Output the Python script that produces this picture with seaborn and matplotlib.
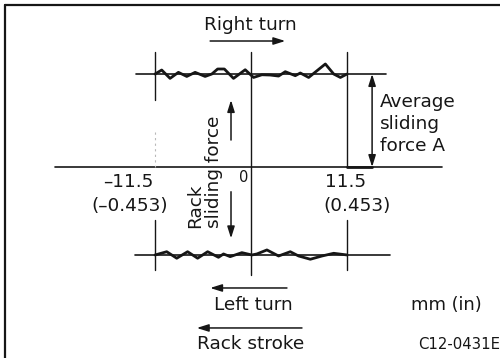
import matplotlib
matplotlib.use("Agg")
import matplotlib.pyplot as plt
import numpy as np
import pandas as pd
import seaborn as sns

# Rack stroke positions (mm) and sliding force, normalised so that the
# average sliding force A equals 1.
right_turn_stroke = [-11.5, -10.7, -9.7, -8.7, -7.7, -6.7, -5.5, -4.7, -4.0, -3.2,
                     -2.1, -0.7, 0.3, 1.3, 2.3, 3.3, 4.1, 5.3, 5.9, 6.9,
                     8.9, 9.9, 10.7, 11.5]
right_turn_force = [1.000, 1.043, 0.953, 1.018, 0.974, 1.018, 0.974, 1.000, 1.054, 1.054,
                    0.953, 1.046, 0.963, 0.992, 0.989, 0.978, 1.025, 0.982, 1.011, 0.963,
                    1.108, 1.000, 0.963, 1.000]

left_turn_stroke = [-11.5, -10.1, -8.9, -7.6, -6.4, -5.2, -3.9, -3.3, -2.5, -1.1,
                    0.1, 0.7, 1.9, 3.3, 4.7, 5.7, 7.1, 8.5, 9.9, 11.5]
left_turn_force = [-0.946, -0.911, -0.981, -0.911, -0.981, -0.911, -0.971, -0.935, -0.964, -0.921,
                   -0.946, -0.935, -0.892, -0.957, -0.911, -0.957, -0.992, -0.957, -0.928, -0.946]

average_force = [1.0, -0.946]
stroke_limit_mm = 11.5
stroke_limit_in = 0.453

sns.set_theme(style="white")
plt.rcParams["font.family"] = ["DejaVu Sans"]

INK = "#161616"

df = pd.concat([
    pd.DataFrame({"stroke": right_turn_stroke, "force": right_turn_force, "turn": "Right turn"}),
    pd.DataFrame({"stroke": left_turn_stroke, "force": left_turn_force, "turn": "Left turn"}),
])

fig = plt.figure(figsize=(5.0, 3.58), dpi=100)
ax = fig.add_axes([0, 0, 1, 1])
ax.set_xlim(-30.07, 29.82)
ax.set_ylim(-2.054, 1.796)
ax.axis("off")

# frame (left and top edges)
ax.plot([0.010, 0.010], [0.0, 0.986], color=INK, lw=1.6, transform=ax.transAxes, clip_on=False)
ax.plot([0.010, 1.0], [0.986, 0.986], color=INK, lw=1.6, transform=ax.transAxes, clip_on=False)

# reference lines
ax.plot([-23.5, 22.9], [0, 0], color=INK, lw=1.2)
ax.plot([-13.8, 16.2], [average_force[0]] * 2, color=INK, lw=1.2)
ax.plot([-13.9, 16.7], [average_force[1]] * 2, color=INK, lw=1.2)
ax.plot([0, 0], [1.237, -1.161], color=INK, lw=1.0)
ax.plot([-stroke_limit_mm] * 2, [1.237, 0.72], color=INK, lw=1.0)
ax.plot([-stroke_limit_mm] * 2, [0.38, 0.0], color="#b8b8b8", lw=0.8, ls=(0, (2, 3)))
ax.plot([-stroke_limit_mm] * 2, [-0.57, -1.108], color=INK, lw=1.0)
ax.plot([stroke_limit_mm] * 2, [1.237, 0.0], color=INK, lw=1.0)
ax.plot([stroke_limit_mm] * 2, [-0.57, -1.108], color=INK, lw=1.0)
ax.plot([stroke_limit_mm, 14.5], [0, 0], color=INK, lw=2.0)

# measured sliding force traces
sns.lineplot(data=df, x="stroke", y="force", units="turn", estimator=None,
             color=INK, lw=2.0, sort=False, ax=ax, legend=False)
ax.set_xlim(-30.07, 29.82)
ax.set_ylim(-2.054, 1.796)
ax.axis("off")


def arrow(x0, y0, x1, y1, style="-|>", lw=1.1):
    ax.annotate("", xy=(x1, y1), xytext=(x0, y0),
                arrowprops=dict(arrowstyle=style + ",head_length=0.7,head_width=0.22",
                                color=INK, lw=lw, shrinkA=0, shrinkB=0,
                                mutation_scale=10))


# average sliding force A
arrow(14.5, 0.0, 14.5, average_force[0], style="<|-|>")

# direction arrows
arrow(-4.9, 1.355, 4.1, 1.355)
arrow(-2.4, 0.29, -2.4, 0.72)
arrow(-2.4, -0.266, -2.4, -0.767)
arrow(4.3, -1.301, -4.9, -1.301)
arrow(6.1, -1.731, -6.5, -1.731)

fs = 13.3
ax.text(-0.1, 1.527, "Right turn", ha="center", va="center", fontsize=fs, color=INK)
ax.text(0.24, -1.484, "Left turn", ha="center", va="center", fontsize=fs, color=INK)
ax.text(-0.1, -1.903, "Rack stroke", ha="center", va="center", fontsize=fs, color=INK)
ax.text(15.45, 0.46, "Average\nsliding\nforce A", ha="left", va="center",
        fontsize=fs, color=INK, linespacing=1.3)
ax.text(-5.54, -0.656, "Rack\nsliding force", rotation=90, ha="center", va="bottom",
        multialignment="left", fontsize=fs, color=INK, linespacing=1.1)
ax.text(-0.84, -0.118, "0", ha="center", va="center", fontsize=10.5, color=INK)
ax.text(-14.7, -0.16, f"\u2013{stroke_limit_mm}", ha="center", va="center", fontsize=fs, color=INK)
ax.text(-14.5, -0.42, f"(\u2013{stroke_limit_in})", ha="center", va="center", fontsize=fs, color=INK)
ax.text(11.3, -0.16, f"{stroke_limit_mm}", ha="center", va="center", fontsize=fs, color=INK)
ax.text(12.7, -0.42, f"({stroke_limit_in})", ha="center", va="center", fontsize=fs, color=INK)
ax.text(19.2, -1.484, "mm (in)", ha="left", va="center", fontsize=12.9, color=INK)
ax.text(20.0, -1.914, "C12-0431E", ha="left", va="center", fontsize=10.7, color=INK)

fig.savefig("out.png", dpi=100, facecolor="white")
